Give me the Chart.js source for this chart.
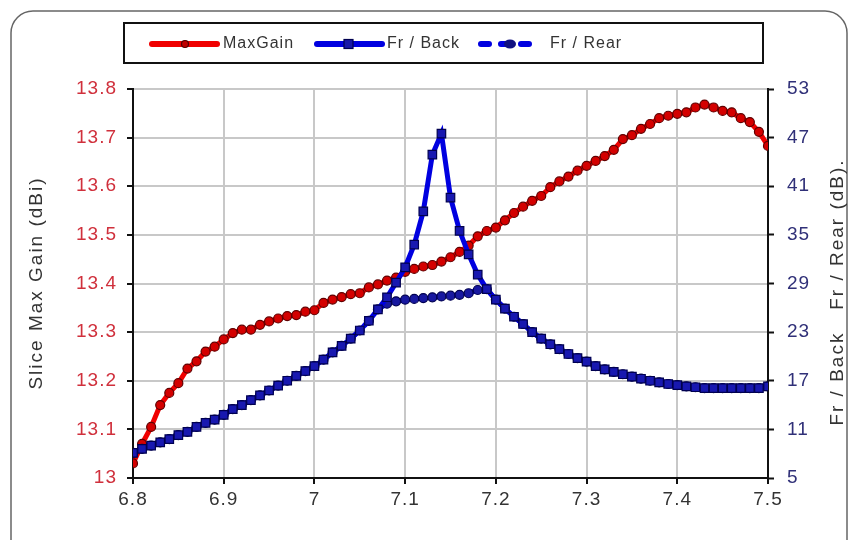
<!DOCTYPE html>
<html>
<head>
<meta charset="utf-8">
<script src="https://cdn.jsdelivr.net/npm/chart.js@4/dist/chart.umd.min.js"></script>
<style>
  html, body { margin: 0; padding: 0; background: #fff; }
  canvas { display: block; }
</style>
</head>
<body>
<canvas id="grafico" width="854" height="540"></canvas>
<script>
// Frecuencias (GHz)
const frecuencias = [
  6.80, 6.81, 6.82, 6.83, 6.84, 6.85, 6.86, 6.87, 6.88, 6.89,
  6.90, 6.91, 6.92, 6.93, 6.94, 6.95, 6.96, 6.97, 6.98, 6.99,
  7.00, 7.01, 7.02, 7.03, 7.04, 7.05, 7.06, 7.07, 7.08, 7.09,
  7.10, 7.11, 7.12, 7.13, 7.14, 7.15, 7.16, 7.17, 7.18, 7.19,
  7.20, 7.21, 7.22, 7.23, 7.24, 7.25, 7.26, 7.27, 7.28, 7.29,
  7.30, 7.31, 7.32, 7.33, 7.34, 7.35, 7.36, 7.37, 7.38, 7.39,
  7.40, 7.41, 7.42, 7.43, 7.44, 7.45, 7.46, 7.47, 7.48, 7.49,
  7.50
];

// Ganancia maxima (dBi) - eje izquierdo
const maxGain = [
  13.030, 13.070, 13.105, 13.150, 13.175, 13.195, 13.225, 13.240, 13.260, 13.270,
  13.285, 13.298, 13.305, 13.305, 13.315, 13.322, 13.328, 13.333, 13.335, 13.342,
  13.345, 13.360, 13.367, 13.372, 13.378, 13.380, 13.392, 13.398, 13.406, 13.412,
  13.424, 13.430, 13.435, 13.438, 13.445, 13.454, 13.465, 13.478, 13.497, 13.508,
  13.515, 13.530, 13.545, 13.558, 13.570, 13.580, 13.598, 13.610, 13.620, 13.632,
  13.642, 13.652, 13.662, 13.675, 13.697, 13.705, 13.718, 13.728, 13.740, 13.745,
  13.749, 13.752, 13.762, 13.768, 13.762, 13.755, 13.752, 13.740, 13.732, 13.712,
  13.683
];

// Relacion frente / espalda (dB) - eje derecho
const frBack = [
  8.1, 8.6, 9.0, 9.4, 9.8, 10.3, 10.7, 11.3, 11.8, 12.2,
  12.8, 13.5, 14.0, 14.6, 15.2, 15.8, 16.4, 17.0, 17.6, 18.2,
  18.8, 19.6, 20.5, 21.3, 22.2, 23.2, 24.4, 25.8, 27.3, 29.1,
  31.0, 33.8, 37.9, 44.9, 47.5, 39.6, 35.5, 32.6, 30.1, 28.3,
  27.0, 25.9, 24.9, 24.0, 23.0, 22.2, 21.5, 20.9, 20.3, 19.8,
  19.35, 18.8, 18.4, 18.1, 17.8, 17.5, 17.25, 17.0, 16.8, 16.6,
  16.45, 16.3, 16.2, 16.1, 16.1, 16.1, 16.1, 16.1, 16.1, 16.1,
  16.3
];

// Relacion frente / trasera (dB) - eje derecho
const frRear = [
  8.1, 8.6, 9.0, 9.4, 9.8, 10.3, 10.7, 11.3, 11.8, 12.2,
  12.8, 13.5, 14.0, 14.6, 15.2, 15.8, 16.4, 17.0, 17.6, 18.2,
  18.8, 19.6, 20.5, 21.3, 22.2, 23.2, 24.4, 25.8, 26.5, 26.8,
  27.0, 27.1, 27.2, 27.3, 27.4, 27.5, 27.6, 27.8, 28.2, 28.3,
  27.0, 25.9, 24.9, 24.0, 23.0, 22.2, 21.5, 20.9, 20.3, 19.8,
  19.35, 18.8, 18.4, 18.1, 17.8, 17.5, 17.25, 17.0, 16.8, 16.6,
  16.45, 16.3, 16.2, 16.1, 16.1, 16.1, 16.1, 16.1, 16.1, 16.1,
  16.3
];

const nombres = ['MaxGain', 'Fr / Back', 'Fr / Rear'];
const tituloIzq = 'Slice Max Gain (dBi)';
const tituloDer = 'Fr / Back   Fr / Rear (dB).';

const rojo = '#f00000';
const azul = '#0000e0';
const fuente = '"Liberation Sans", Arial, sans-serif';

function puntos(valores) {
  return frecuencias.map((f, i) => ({ x: f, y: valores[i] }));
}

// etiquetas sin ceros sobrantes: 13.8, 7, 6.8
function etiqueta(v) {
  return String(+v.toFixed(2));
}

// Leyenda, titulos y marco dibujados a mano
const decoracion = {
  id: 'decoracion',
  beforeDraw(chart) {
    const ctx = chart.ctx;
    ctx.fillStyle = '#fff';
    ctx.fillRect(0, 0, chart.width, chart.height);
    ctx.letterSpacing = '1px'; // se queda para las etiquetas de los ejes
  },
  afterDraw(chart) {
    const ctx = chart.ctx;
    ctx.save();

    // marco redondeado
    ctx.strokeStyle = '#666';
    ctx.lineWidth = 1.5;
    ctx.beginPath();
    ctx.roundRect(11, 11, 836, 560, 22);
    ctx.stroke();

    // caja de la leyenda
    ctx.fillStyle = '#fff';
    ctx.fillRect(124, 23, 639, 40);
    ctx.strokeStyle = '#111';
    ctx.lineWidth = 2;
    ctx.strokeRect(124, 23, 639, 40);

    const y = 44;
    ctx.lineCap = 'round';
    // MaxGain
    ctx.strokeStyle = rojo; ctx.lineWidth = 6;
    ctx.beginPath(); ctx.moveTo(152, y); ctx.lineTo(217, y); ctx.stroke();
    ctx.fillStyle = '#c00000'; ctx.strokeStyle = '#500000'; ctx.lineWidth = 1.2;
    ctx.beginPath(); ctx.arc(185, y, 3.5, 0, Math.PI * 2); ctx.fill(); ctx.stroke();
    // Fr / Back
    ctx.strokeStyle = azul; ctx.lineWidth = 6;
    ctx.beginPath(); ctx.moveTo(317, y); ctx.lineTo(382, y); ctx.stroke();
    ctx.fillStyle = '#1818a8'; ctx.strokeStyle = '#000050'; ctx.lineWidth = 1.2;
    ctx.fillRect(344, y - 4.5, 9, 9); ctx.strokeRect(344, y - 4.5, 9, 9);
    // Fr / Rear
    ctx.strokeStyle = azul; ctx.lineWidth = 6;
    ctx.setLineDash([8, 12]);
    ctx.beginPath(); ctx.moveTo(481, y); ctx.lineTo(538, y); ctx.stroke();
    ctx.setLineDash([]);
    ctx.fillStyle = '#101080';
    ctx.beginPath(); ctx.ellipse(510, y, 6, 4.5, 0, 0, Math.PI * 2); ctx.fill();

    ctx.fillStyle = '#333';
    ctx.font = '16px ' + fuente;
    ctx.letterSpacing = '1px';
    ctx.textBaseline = 'middle';
    ctx.textAlign = 'left';
    ctx.fillText(nombres[0], 223, y);
    ctx.fillText(nombres[1], 387, y);
    ctx.fillText(nombres[2], 550, y);

    // titulos de ejes
    ctx.font = '19px ' + fuente;
    ctx.letterSpacing = '2px';
    ctx.textAlign = 'center';
    ctx.save();
    ctx.translate(37, 283);
    ctx.rotate(-Math.PI / 2);
    ctx.fillText(tituloIzq, 0, 0);
    ctx.restore();
    ctx.save();
    ctx.translate(838, 292);
    ctx.rotate(-Math.PI / 2);
    ctx.fillText(tituloDer, 0, 0);
    ctx.restore();

    ctx.restore();
  }
};

function generarGrafico() {
  const ctx = document.getElementById('grafico').getContext('2d');
  new Chart(ctx, {
    type: 'line',
    data: {
      datasets: [
        {
          label: nombres[0],
          data: puntos(maxGain),
          yAxisID: 'y',
          borderColor: rojo,
          borderWidth: 5,
          pointStyle: 'circle',
          pointRadius: 4.5,
          pointBackgroundColor: '#d40000',
          pointBorderColor: '#600000',
          pointBorderWidth: 1.2,
          order: 3
        },
        {
          label: nombres[2],
          data: puntos(frRear),
          yAxisID: 'y2',
          borderColor: azul,
          borderWidth: 5,
          borderDash: [12, 7],
          pointStyle: 'circle',
          pointRadius: 4.5,
          pointBackgroundColor: '#1818a0',
          pointBorderColor: '#000050',
          pointBorderWidth: 1.2,
          order: 2
        },
        {
          label: nombres[1],
          data: puntos(frBack),
          yAxisID: 'y2',
          borderColor: azul,
          borderWidth: 5,
          pointStyle: 'rect',
          pointRadius: 6,
          pointBackgroundColor: '#1818b0',
          pointBorderColor: '#000050',
          pointBorderWidth: 1.2,
          order: 1
        }
      ]
    },
    options: {
      responsive: false,
      animation: false,
      devicePixelRatio: 1,
      layout: { padding: { top: 89, left: 0, right: 0, bottom: 0 } },
      plugins: {
        legend: { display: false },
        tooltip: { enabled: false }
      },
      scales: {
        x: {
          type: 'linear',
          min: 6.8,
          max: 7.5,
          ticks: {
            stepSize: 0.1,
            color: '#333',
            font: { family: fuente, size: 19 },
            padding: 4,
            callback: etiqueta
          },
          grid: { color: '#c8c8c8', lineWidth: 2, tickColor: '#111', tickLength: 6, tickWidth: 2 },
          border: { color: '#111', width: 2 },
          afterFit: s => { s.height = 62; }
        },
        y: {
          position: 'left',
          min: 13,
          max: 13.8,
          ticks: {
            stepSize: 0.1,
            color: '#d0303c',
            font: { family: fuente, size: 19 },
            padding: 10,
            callback: etiqueta
          },
          grid: { color: '#c8c8c8', lineWidth: 2, tickColor: '#111', tickLength: 6, tickWidth: 2 },
          border: { color: '#111', width: 2 },
          afterFit: s => { s.width = 133; }
        },
        y2: {
          position: 'right',
          min: 5,
          max: 53,
          ticks: {
            stepSize: 6,
            color: '#303078',
            font: { family: fuente, size: 19 },
            padding: 13,
            callback: etiqueta
          },
          grid: { drawOnChartArea: false, tickColor: '#111', tickLength: 6, tickWidth: 2 },
          border: { color: '#111', width: 2 },
          afterFit: s => { s.width = 86; }
        }
      }
    },
    plugins: [decoracion]
  });
}

window.onload = generarGrafico;
</script>
</body>
</html>
